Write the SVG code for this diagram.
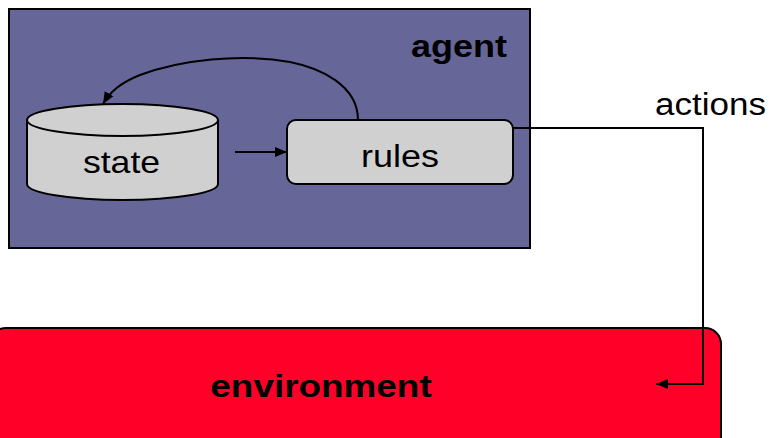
<svg xmlns="http://www.w3.org/2000/svg" width="772" height="438" viewBox="0 0 772 438">
<defs>
<style>
text{font-family:"Liberation Sans",Arial,sans-serif;font-size:31px;fill:#000}
.b{font-weight:bold}
.line{fill:none;stroke:#000;stroke-width:2}
.gray{fill:#d0d0d0;stroke:#000;stroke-width:2}
</style>
<marker id="ah" viewBox="0 0 12 10" refX="12" refY="5" markerWidth="12" markerHeight="10" markerUnits="userSpaceOnUse" orient="auto">
<path d="M0,0 L12,5 L0,10 Z" fill="#000"/>
</marker>
</defs>
<rect width="772" height="438" fill="#fff"/>
<g id="environment">
<rect x="-10" y="328" width="731" height="130" rx="16" fill="#ff0029" stroke="#000" stroke-width="2"/>
<text class="b" transform="translate(321,397) scale(1.19,1)" text-anchor="middle">environment</text>
</g>
<g id="agent">
<rect x="9" y="9" width="521" height="239" fill="#666699" stroke="#000" stroke-width="2"/>
<text class="b" transform="translate(507,57) scale(1.16,1)" text-anchor="end">agent</text>
</g>
<g id="state">
<path class="gray" d="M27,120 L27,184 A95.5,16 0 0 0 218,184 L218,120 A95.5,16 0 0 0 27,120 Z"/>
<path class="line" d="M27,120 A95.5,16 0 0 0 218,120"/>
<text transform="translate(121.5,173) scale(1.15,1)" text-anchor="middle">state</text>
</g>
<g id="rules">
<rect class="gray" x="287" y="120" width="226" height="64" rx="9"/>
<text transform="translate(400,167) scale(1.16,1)" text-anchor="middle">rules</text>
</g>
<g id="connectors">
<path class="line" d="M235,152 L287,152" marker-end="url(#ah)"/>
<path class="line" d="M358,120 C358,85 320,68 290,62 C240,53 180,60 140,75 C120,83 110,92 103,104" marker-end="url(#ah)"/>
<path class="line" d="M513,128 L703,128 L703,384 L656,384" marker-end="url(#ah)"/>
<text transform="translate(710.5,115) scale(1.13,1)" text-anchor="middle">actions</text>
</g>
</svg>
